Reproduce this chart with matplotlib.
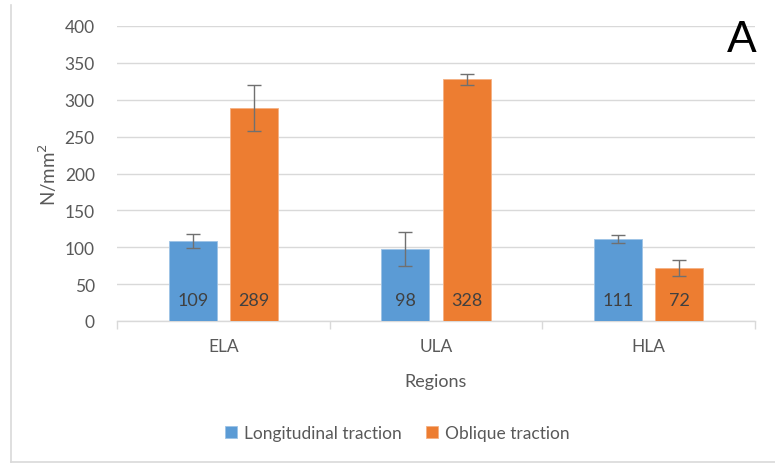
import matplotlib.pyplot as plt
from matplotlib.lines import Line2D
import numpy as np

regions = ["ELA", "ULA", "HLA"]
longitudinal = [109, 98, 111]
oblique = [289, 328, 72]
long_err = [9.5, 23, 5.5]
obl_err = [31, 7.5, 11]

blue = "#5b9bd5"
orange = "#ed7d31"
txt = "#595959"

plt.rcParams['font.family'] = ['Lato', 'DejaVu Sans']

fig = plt.figure(figsize=(7.75, 4.64), dpi=100)
ax = fig.add_axes([117/775, 1-322/464, 638/775, 295/464])

x = np.arange(len(regions))
w = 0.226
off = 0.144
b1 = ax.bar(x - off, longitudinal, w, color=blue, edgecolor="#9dc3e6", linewidth=0.6,
            yerr=long_err, error_kw=dict(ecolor="#707070", elinewidth=1, capsize=5, capthick=1),
            label="Longitudinal traction", zorder=3)
b2 = ax.bar(x + off, oblique, w, color=orange, edgecolor="#f4b183", linewidth=0.6,
            yerr=obl_err, error_kw=dict(ecolor="#707070", elinewidth=1, capsize=5, capthick=1),
            label="Oblique traction", zorder=3)

for xi, v in zip(x - off, longitudinal):
    ax.text(xi, 28, str(v), ha="center", va="center", fontsize=13, color="#404040", zorder=4)
for xi, v in zip(x + off, oblique):
    ax.text(xi, 28, str(v), ha="center", va="center", fontsize=13, color="#404040", zorder=4)

ax.set_ylim(0, 400)
ax.set_xlim(-0.5, 2.5)
ax.set_yticks(range(0, 401, 50))
ax.yaxis.grid(True, color="#d9d9d9", linewidth=1, zorder=0)
ax.set_axisbelow(True)
for s in ["top", "right", "left"]:
    ax.spines[s].set_visible(False)
ax.spines["bottom"].set_color("#d9d9d9")
ax.spines["bottom"].set_linewidth(1)
ax.tick_params(axis="y", length=0, labelsize=12.5, labelcolor=txt, pad=16)
ax.set_xticks(x)
ax.set_xticklabels(regions)
ax.tick_params(axis="x", length=0, labelsize=12.5, labelcolor=txt, pad=12)
ax.set_xticks([-0.5, 0.5, 1.5, 2.5], minor=True)
ax.tick_params(axis="x", which="minor", length=6, color="#d9d9d9", width=1)

ax.set_xlabel("Regions", fontsize=13, color=txt, labelpad=14)
ax.set_ylabel("N/mm$^2$", fontsize=13.5, color=txt, labelpad=4)

fig.legend(handles=[b1, b2], loc="center", bbox_to_anchor=(397/775, 1-434/464), ncol=2,
           frameon=False, fontsize=12.5, labelcolor=txt, handlelength=0.7, handleheight=0.7,
           handletextpad=0.4, columnspacing=1.4)

fig.text(742/775, 1-40/464, "A", fontsize=32, color="black", ha="center", va="center",
         family=["Liberation Sans", "DejaVu Sans"])

# outer frame lines
fig.add_artist(Line2D([11/775, 11/775], [1-463/464, 1-6/464], color="#d9d9d9", lw=1.2))
fig.add_artist(Line2D([11/775, 1], [1-463/464, 1-463/464], color="#d9d9d9", lw=1.2))

fig.savefig("out.png", dpi=100)
